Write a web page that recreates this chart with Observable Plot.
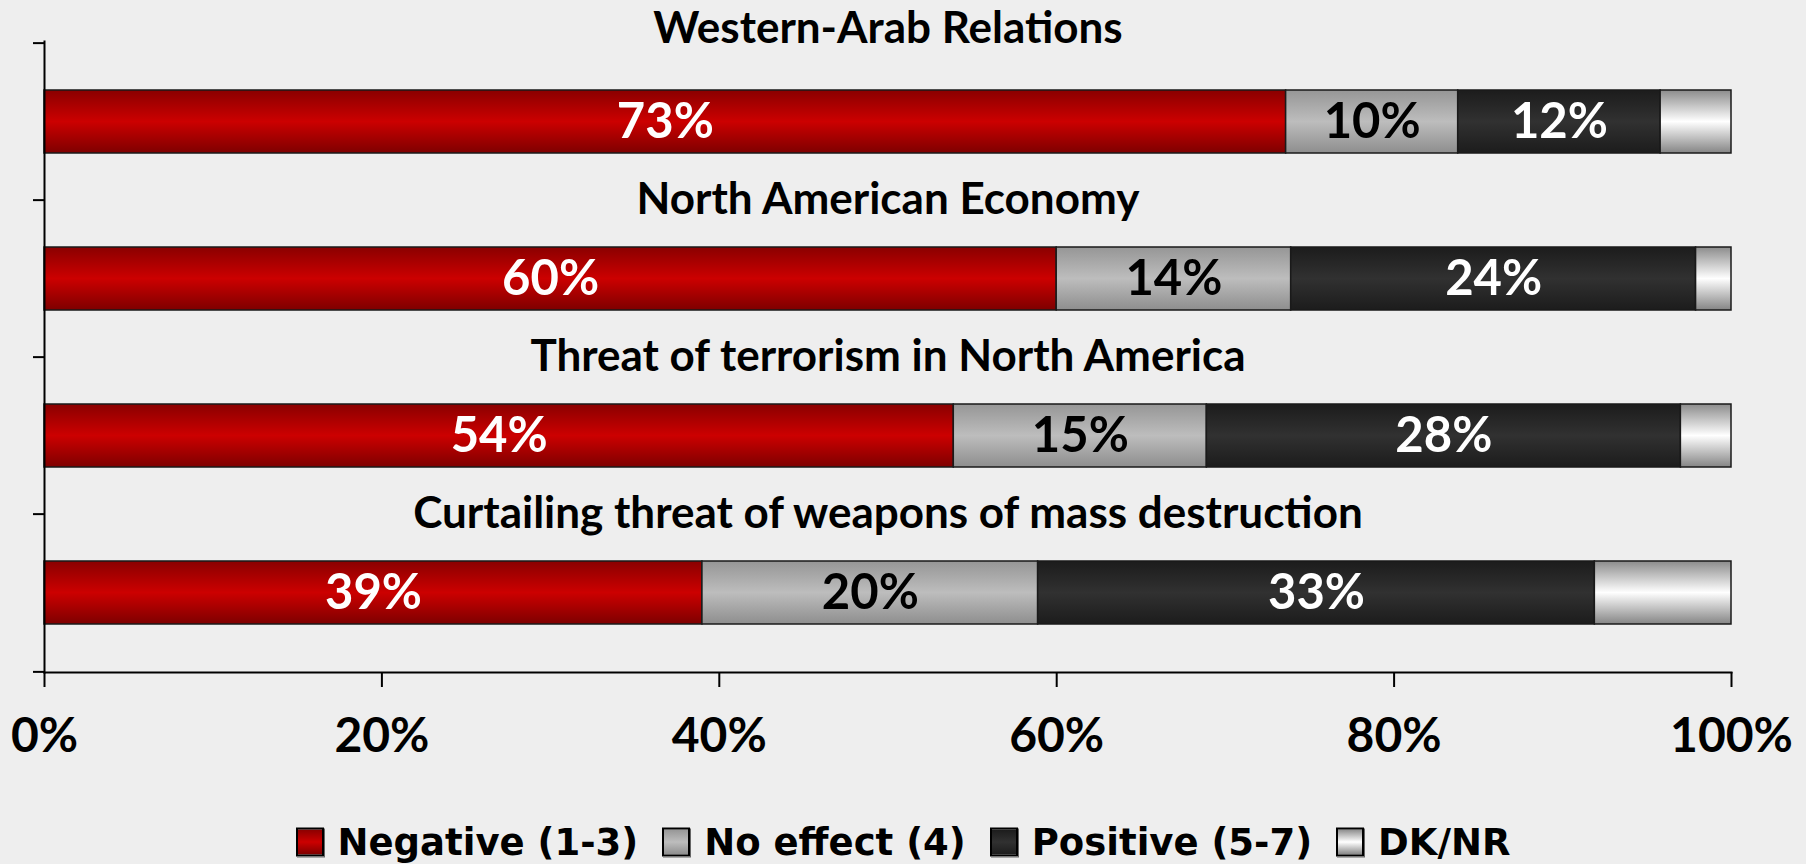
<!DOCTYPE html>
<html>
<head>
<meta charset="utf-8">
<script src="https://cdn.jsdelivr.net/npm/d3@7"></script>
<script src="https://cdn.jsdelivr.net/npm/@observablehq/plot@0.6"></script>
<style>
  html, body { margin: 0; padding: 0; background: #eeeeee; }
  body { width: 1806px; height: 864px; position: relative; overflow: hidden; font-family: Lato, "DejaVu Sans", sans-serif; }
  #legend { position: absolute; left: 0; width: 1806px; top: 842px; transform: translateY(-50%);
            display: flex; justify-content: center; align-items: center; font-weight: bold; font-size: 37px;
            font-family: "DejaVu Sans", sans-serif; color: #000; }
  .item { display: flex; align-items: center; margin: 0 12px; }
  .sw { width: 28px; height: 29px; border: 2px solid #000; margin-right: 14px; box-sizing: border-box;
        box-shadow: 1px 1px 0 #666; }
</style>
</head>
<body>
<div id="chart"></div>
<div id="legend"></div>
<script>
const categories = [
  "Western-Arab Relations",
  "North American Economy",
  "Threat of terrorism in North America",
  "Curtailing threat of weapons of mass destruction"
];
const series = ["Negative (1-3)", "No effect (4)", "Positive (5-7)", "DK/NR"];
// segment widths (percent)
const negative = [73.6, 60.0, 53.9, 39.0];
const noEffect = [10.2, 13.9, 15.0, 19.9];
const positive = [12.0, 24.0, 28.1, 33.0];
const dkNr     = [4.2, 2.1, 3.0, 8.1];
// printed labels
const negativeLabels = ["73%", "60%", "54%", "39%"];
const noEffectLabels = ["10%", "14%", "15%", "20%"];
const positiveLabels = ["12%", "24%", "28%", "33%"];
const xTicks = [0, 20, 40, 60, 80, 100];

const gradients = [
  ["#8a0000", "#cc0000", "#7e0000"],
  ["#969696", "#bdbdbd", "#8e8e8e"],
  ["#1c1c1c", "#313131", "#1c1c1c"],
  ["#8c8c8c", "#ffffff", "#858585"]
];

const values = [negative, noEffect, positive, dkNr];
const labels = [negativeLabels, noEffectLabels, positiveLabels, null];
const data = [];
categories.forEach((c, i) => {
  series.forEach((s, j) => {
    data.push({cat: c, series: s, value: values[j][i], label: labels[j] ? labels[j][i] : ""});
  });
});

const W = 1806, H = 800, mT = 41, mB = 128, mL = 44, mR = 75;
const step = (H - mT - mB) / categories.length;

const stackOpts = (extra) => Plot.stackX({x: "value", y: "cat", z: "series", ...extra});

const svg = Plot.plot({
  width: W, height: H,
  marginTop: mT, marginBottom: mB, marginLeft: mL, marginRight: mR,
  style: {background: "#eeeeee", fontFamily: "Lato, 'DejaVu Sans', sans-serif", color: "#000", overflow: "visible"},
  x: {domain: [0, 100], label: null},
  y: {domain: categories, paddingInner: 0.6, paddingOuter: 0.3, label: null},
  color: {type: "ordinal", domain: series, range: series.map((s, i) => `url(#grad${i})`)},
  marks: [
    Plot.barX(data, stackOpts({fill: "series", stroke: "#1a1a1a", strokeWidth: 1.5})),
    Plot.text(data, stackOpts({
      text: d => (d.series === series[0] || d.series === series[2]) ? d.label : "",
      fill: "white", fontSize: 49, fontWeight: "bold"
    })),
    Plot.text(data, stackOpts({
      text: d => d.series === series[1] ? d.label : "",
      fill: "black", fontSize: 49, fontWeight: "bold"
    })),
    Plot.text(categories.slice(0, 1), {y: d => d, dy: -93, fontSize: 44, fontWeight: "bold", fill: "black"}),
    Plot.text(categories.slice(1), {y: d => d, dy: -79, fontSize: 44, fontWeight: "bold", fill: "black"}),
    Plot.frame({anchor: "left", stroke: "#000", strokeWidth: 2}),
    Plot.frame({anchor: "bottom", stroke: "#000", strokeWidth: 2}),
    Plot.axisY({tickSize: 11, dy: -step / 2, tickFormat: () => "", strokeWidth: 2, label: null}),
    Plot.axisY({ticks: categories.slice(-1), tickSize: 11, dy: step / 2, tickFormat: () => "", strokeWidth: 2, label: null}),
    Plot.axisX({ticks: xTicks, tickFormat: d => d + "%", tickSize: 15, tickPadding: 30,
                fontSize: 48, fontWeight: "bold", strokeWidth: 2, label: null})
  ]
});

const ns = "http://www.w3.org/2000/svg";
const defs = document.createElementNS(ns, "defs");
gradients.forEach((g, i) => {
  const lg = document.createElementNS(ns, "linearGradient");
  lg.setAttribute("id", "grad" + i);
  lg.setAttribute("x1", "0"); lg.setAttribute("y1", "0");
  lg.setAttribute("x2", "0"); lg.setAttribute("y2", "1");
  [[0, g[0]], [0.5, g[1]], [1, g[2]]].forEach(([o, c]) => {
    const st = document.createElementNS(ns, "stop");
    st.setAttribute("offset", o);
    st.setAttribute("stop-color", c);
    lg.appendChild(st);
  });
  defs.appendChild(lg);
});
svg.insertBefore(defs, svg.firstChild);
document.getElementById("chart").appendChild(svg);

const legend = document.getElementById("legend");
series.forEach((s, i) => {
  const g = gradients[i];
  const item = document.createElement("div");
  item.className = "item";
  const sw = document.createElement("div");
  sw.className = "sw";
  sw.style.background = `linear-gradient(to bottom, ${g[0]}, ${g[1]} 50%, ${g[2]})`;
  const t = document.createElement("span");
  t.textContent = s;
  item.appendChild(sw);
  item.appendChild(t);
  legend.appendChild(item);
});
</script>
</body>
</html>
